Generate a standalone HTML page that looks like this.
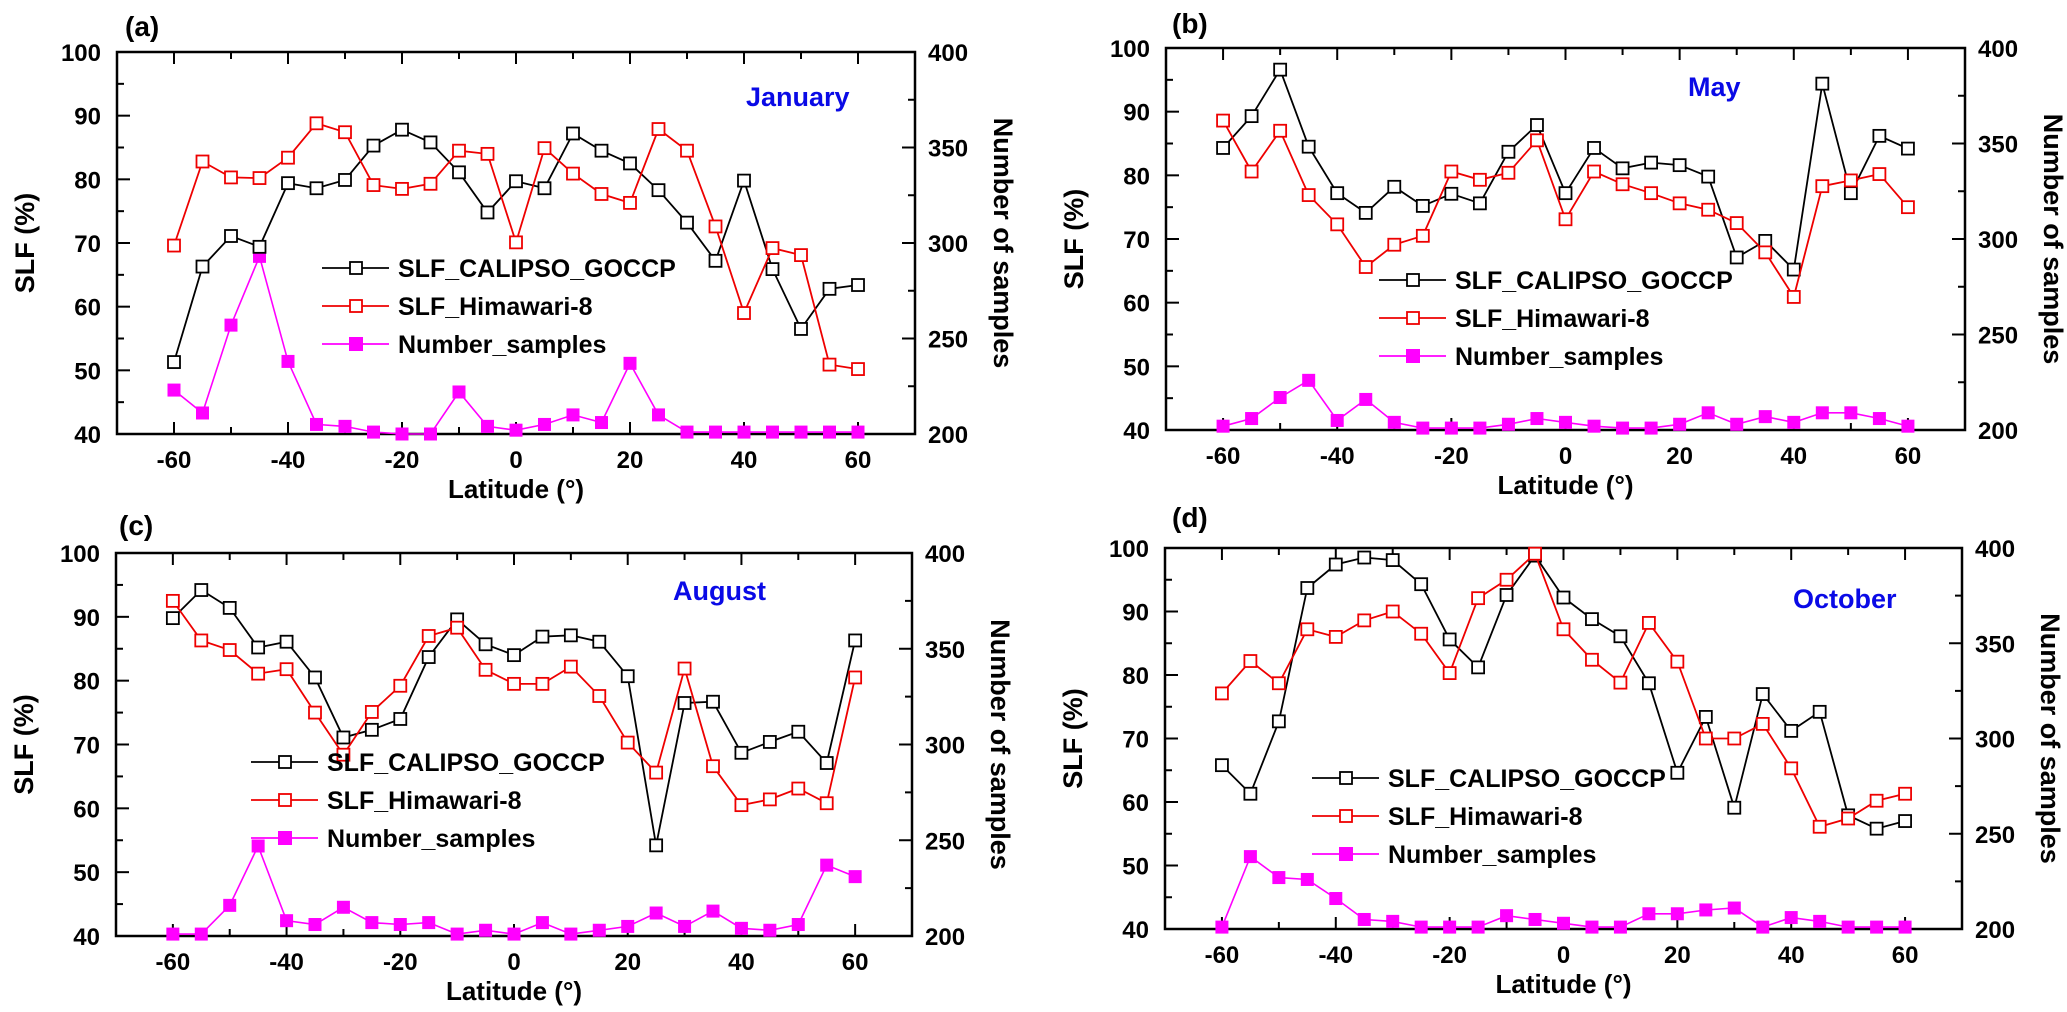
<!DOCTYPE html>
<html><head><meta charset="utf-8">
<style>
html,body{margin:0;padding:0;background:#fff;}
svg{display:block;font-family:"Liberation Sans",Arial,sans-serif;}
</style></head>
<body>
<svg id="fig" width="2067" height="1012" viewBox="0 0 2067 1012" xmlns="http://www.w3.org/2000/svg"></svg>
<script>
const latitudes = [-60,-55,-50,-45,-40,-35,-30,-25,-20,-15,-10,-5,0,5,10,15,20,25,30,35,40,45,50,55,60];
const xTicks = [-60,-40,-20,0,20,40,60];
const yLeftTicks = [40,50,60,70,80,90,100];
const yRightTicks = [200,250,300,350,400];
const seriesNames = ["SLF_CALIPSO_GOCCP","SLF_Himawari-8","Number_samples"];

const janCalipso = [51.3,66.3,71.1,69.4,79.4,78.6,79.9,85.3,87.8,85.8,81.1,74.8,79.7,78.6,87.2,84.5,82.5,78.3,73.2,67.2,79.8,65.9,56.5,62.8,63.4];
const janHimawari = [69.6,82.8,80.3,80.2,83.4,88.8,87.4,79.1,78.5,79.3,84.5,84.0,70.1,84.9,80.9,77.7,76.3,87.9,84.5,72.6,59.0,69.2,68.1,50.9,50.2];
const janSamples = [223,211,257,293,238,205,204,201,200,200,222,204,202,205,210,206,237,210,201,201,201,201,201,201,201];

const mayCalipso = [84.3,89.3,96.6,84.5,77.2,74.1,78.2,75.2,77.1,75.6,83.7,87.9,77.2,84.3,81.1,82.0,81.6,79.8,67.1,69.7,65.2,94.4,77.2,86.2,84.2];
const mayHimawari = [88.6,80.6,87.0,76.9,72.3,65.6,69.1,70.5,80.6,79.3,80.4,85.5,73.1,80.6,78.6,77.2,75.6,74.6,72.5,67.9,60.9,78.3,79.2,80.2,75.0];
const maySamples = [202,206,217,226,205,216,204,201,201,201,203,206,204,202,201,201,203,209,203,207,204,209,209,206,202];

const augCalipso = [89.8,94.2,91.4,85.2,86.1,80.5,71.1,72.3,74.0,83.7,89.6,85.7,84.0,86.9,87.1,86.1,80.7,54.2,76.5,76.7,68.7,70.4,72.0,67.1,86.3];
const augHimawari = [92.5,86.3,84.8,81.1,81.8,75.0,68.4,75.1,79.2,87.0,88.3,81.7,79.5,79.5,82.2,77.6,70.3,65.6,81.9,66.6,60.5,61.4,63.1,60.8,80.5];
const augSamples = [201,201,216,247,208,206,215,207,206,207,201,203,201,207,201,203,205,212,205,213,204,203,206,237,231];

const octCalipso = [65.8,61.3,72.7,93.7,97.4,98.5,98.1,94.3,85.6,81.2,92.6,98.8,92.2,88.8,86.1,78.7,64.6,73.4,59.1,77.0,71.2,74.2,57.9,55.8,57.0];
const octHimawari = [77.1,82.2,78.7,87.2,86.0,88.6,90.0,86.5,80.3,92.1,95.0,99.1,87.2,82.4,78.8,88.2,82.1,70.0,70.0,72.3,65.3,56.1,57.4,60.2,61.3];
const octSamples = [201,238,227,226,216,205,204,201,201,201,207,205,203,201,201,208,208,210,211,201,206,204,201,201,201];

const NS = "http://www.w3.org/2000/svg";
const svg = document.getElementById('fig');
function mk(tag, attrs, parent){
  const e = document.createElementNS(NS, tag);
  for (const k in attrs) e.setAttribute(k, attrs[k]);
  (parent||svg).appendChild(e);
  return e;
}
function txt(parent, x, y, s, attrs){
  const t = mk('text', Object.assign({x:x, y:y}, attrs||{}), parent);
  t.textContent = s;
  return t;
}

const panels = [
  {id:'a', label:'(a)', month:'January', L:117, R:915, T:52, B:434, lx:125, ly:36, mx:746, my:106, legX:322, legY:268, cal:janCalipso, him:janHimawari, smp:janSamples},
  {id:'b', label:'(b)', month:'May', L:1166, R:1965, T:48, B:430, lx:1172, ly:33, mx:1688, my:96, legX:1379, legY:280, cal:mayCalipso, him:mayHimawari, smp:maySamples},
  {id:'c', label:'(c)', month:'August', L:116, R:912, T:553, B:936, lx:119, ly:535, mx:673, my:600, legX:251, legY:762, cal:augCalipso, him:augHimawari, smp:augSamples},
  {id:'d', label:'(d)', month:'October', L:1165, R:1962, T:548, B:929, lx:1172, ly:527, mx:1793, my:608, legX:1312, legY:778, cal:octCalipso, him:octHimawari, smp:octSamples}
];

function drawPanel(p){
  const g = mk('g', {});
  
  
  const xs = v => p.L + (v + 70) / 140 * (p.R - p.L);
  const yl = v => p.B - (v - 40) / 60 * (p.B - p.T);
  const yr = v => p.B - (v - 200) / 200 * (p.B - p.T);

  // frame
  const frame = mk('rect', {x:p.L, y:p.T, width:p.R-p.L, height:p.B-p.T, fill:'none', stroke:'#000', 'stroke-width':2.5}, g);
  
  

  // x ticks (major at 20s, minor at 10 offsets), bottom and top, inward
  for (let v = -60; v <= 60; v += 10) {
    const major = xTicks.indexOf(v) >= 0;
    const len = major ? 12 : 7;
    mk('line', {x1:xs(v), x2:xs(v), y1:p.B, y2:p.B-len, stroke:'#000', 'stroke-width':2}, g);
    mk('line', {x1:xs(v), x2:xs(v), y1:p.T, y2:p.T+len, stroke:'#000', 'stroke-width':2}, g);
  }
  xTicks.forEach(v => {
    const t = txt(g, xs(v), p.B+34, String(v), {'font-size':24, 'font-weight':'bold', 'text-anchor':'middle'});
    
    
  });
  // left y ticks
  for (let v = 40; v <= 100; v += 5) {
    const major = v % 10 === 0;
    mk('line', {x1:p.L, x2:p.L+(major?13:7), y1:yl(v), y2:yl(v), stroke:'#000', 'stroke-width':2}, g);
  }
  yLeftTicks.forEach(v => {
    const t = txt(g, p.L-16, yl(v)+9, String(v), {'font-size':24, 'font-weight':'bold', 'text-anchor':'end'});
    
    
  });
  // right y ticks
  for (let v = 200; v <= 400; v += 25) {
    const major = v % 50 === 0;
    mk('line', {x1:p.R, x2:p.R-(major?13:7), y1:yr(v), y2:yr(v), stroke:'#000', 'stroke-width':2}, g);
  }
  yRightTicks.forEach(v => {
    const t = txt(g, p.R+13, yr(v)+9, String(v), {'font-size':24, 'font-weight':'bold', 'text-anchor':'start'});
    
    
  });

  // axis titles
  const cy = (p.T + p.B) / 2;
  const yt = txt(g, 0, 0, 'SLF (%)', {'font-size':27, 'font-weight':'bold', 'text-anchor':'middle', transform:`translate(${p.L-83},${cy}) rotate(-90)`});
  
  
  const yt2 = txt(g, 0, 0, 'Number of samples', {'font-size':27, 'font-weight':'bold', 'text-anchor':'middle', transform:`translate(${p.R+79},${cy}) rotate(90)`});
  
  
  const xt = txt(g, (p.L+p.R)/2, p.B+64, 'Latitude (°)', {'font-size':26, 'font-weight':'bold', 'text-anchor':'middle'});
  
  

  // panel label and month
  const pl = txt(g, p.lx, p.ly, p.label, {'font-size':28, 'font-weight':'bold'});
  
  
  const ml = txt(g, p.mx, p.my, p.month, {'font-size':27, 'font-weight':'bold', fill:'#0a0ae6'});
  
  

  // series
  function series(vals, yfn, color, filled, name){
    const sg = mk('g', {}, g);
    
    
    const pts = vals.map((v,i) => xs(latitudes[i]).toFixed(1) + ',' + yfn(v).toFixed(1)).join(' ');
    mk('polyline', {points:pts, fill:'none', stroke:color, 'stroke-width':filled?1.6:1.8}, sg);
    vals.forEach((v,i) => {
      const s = filled ? 13 : 12;
      const r = mk('rect', {x:xs(latitudes[i])-s/2, y:yfn(v)-s/2, width:s, height:s,
        fill: filled ? color : '#fff', stroke: filled ? 'none' : color, 'stroke-width':1.8}, sg);
      
      
    });
  }
  series(p.smp, yr, '#ff00ff', true, 'number-samples-series');
  series(p.cal, yl, '#000000', false, 'calipso-series');
  series(p.him, yl, '#ee0000', false, 'himawari-series');

  // legend
  const lg = mk('g', {}, g);
  
  
  const cols = ['#000000','#ee0000','#ff00ff'];
  seriesNames.forEach((n, i) => {
    const y = p.legY + i*38;
    const eg = mk('g', {}, lg);
    
    
    mk('line', {x1:p.legX, x2:p.legX+67, y1:y, y2:y, stroke:cols[i], 'stroke-width':1.8}, eg);
    if (i < 2) mk('rect', {x:p.legX+28, y:y-6, width:12, height:12, fill:'#fff', stroke:cols[i], 'stroke-width':1.8}, eg);
    else mk('rect', {x:p.legX+27, y:y-7, width:14, height:14, fill:cols[i]}, eg);
    txt(eg, p.legX+76, y+9, n, {'font-size':25, 'font-weight':'bold'});
  });
}
panels.forEach(drawPanel);
</script>
</body></html>
